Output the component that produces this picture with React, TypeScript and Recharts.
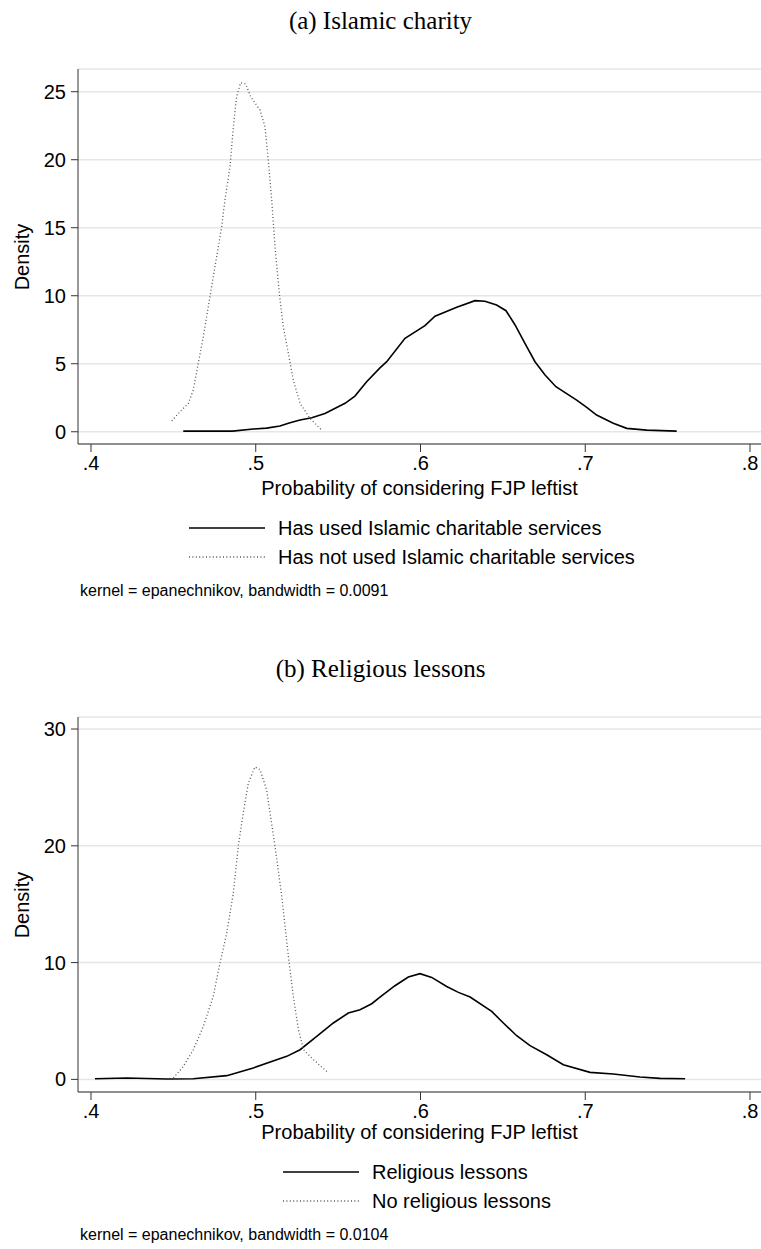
import React from 'react';
import { LineChart, Line, XAxis, YAxis, CartesianGrid } from 'recharts';

// Kernel density estimates, (x = probability, y = density)
const charityUsed: [number, number][] = [
  [0.456, 0.05], [0.486, 0.05], [0.4985, 0.2], [0.5066, 0.27], [0.5147, 0.42], [0.5208, 0.66],
  [0.5269, 0.86], [0.534, 1.03], [0.542, 1.35], [0.5542, 2.09], [0.5602, 2.62], [0.5673, 3.68],
  [0.5754, 4.7], [0.5795, 5.15], [0.5906, 6.87], [0.6027, 7.8], [0.6088, 8.5], [0.622, 9.15],
  [0.6331, 9.64], [0.6391, 9.59], [0.6462, 9.32], [0.6519, 8.9], [0.6574, 7.85], [0.6634, 6.5],
  [0.6695, 5.15], [0.6756, 4.17], [0.6822, 3.31], [0.6948, 2.33], [0.7009, 1.79], [0.7069, 1.23],
  [0.717, 0.62], [0.7252, 0.25], [0.7373, 0.12], [0.7555, 0.05],
];

const charityNotUsed: [number, number][] = [
  [0.449, 0.79], [0.454, 1.47], [0.4591, 2.09], [0.4621, 3.07], [0.4651, 5.03], [0.4682, 6.99],
  [0.4712, 9.19], [0.4742, 11.4], [0.4773, 13.6], [0.4793, 15.07], [0.4813, 17.04], [0.4844, 19.49],
  [0.4864, 22.43], [0.4884, 24.63], [0.4908, 25.66], [0.4939, 25.57], [0.4969, 24.63], [0.5026, 23.65],
  [0.5056, 22.43], [0.5076, 19.98], [0.5097, 17.04], [0.5117, 13.6], [0.5143, 10.18], [0.5167, 7.72],
  [0.5198, 5.76], [0.5228, 3.8], [0.5269, 2.09], [0.5329, 0.99], [0.54, 0.12],
];

const lessonsYes: [number, number][] = [
  [0.4024, 0.06], [0.4217, 0.12], [0.446, 0.03], [0.4621, 0.06], [0.4824, 0.32], [0.4985, 0.98],
  [0.5188, 1.97], [0.5269, 2.54], [0.537, 3.68], [0.5471, 4.83], [0.5562, 5.68], [0.5633, 5.97],
  [0.5704, 6.48], [0.5754, 7.05], [0.5845, 8.02], [0.5926, 8.77], [0.5997, 9.05], [0.6068, 8.73],
  [0.6159, 7.96], [0.623, 7.45], [0.6301, 7.05], [0.6432, 5.82], [0.6503, 4.83], [0.6584, 3.74],
  [0.6665, 2.89], [0.6766, 2.11], [0.6867, 1.26], [0.7029, 0.6], [0.717, 0.46], [0.7332, 0.2],
  [0.7454, 0.09], [0.7606, 0.06],
];

const lessonsNo: [number, number][] = [
  [0.45, 0.12], [0.456, 1.11], [0.4621, 2.54], [0.4682, 4.54], [0.4742, 7.11], [0.4783, 9.97],
  [0.4824, 12.53], [0.4864, 15.96], [0.4894, 19.95], [0.4924, 22.81], [0.4955, 25.38], [0.4995, 26.75],
  [0.5026, 26.52], [0.5066, 24.8], [0.5117, 19.95], [0.5158, 15.67], [0.5198, 10.53], [0.5228, 7.11],
  [0.5259, 4.26], [0.529, 2.54], [0.535, 1.69], [0.5441, 0.55],
];

const xTicks = [0.4, 0.5, 0.6, 0.7, 0.8];
const yTicksCharity = [0, 5, 10, 15, 20, 25];
const yTicksLessons = [0, 10, 20, 30];

const xTitle = 'Probability of considering FJP leftist';
const yTitle = 'Density';

const SANS = '"Liberation Sans", Arial, Helvetica, sans-serif';
const SERIF = '"Liberation Serif", "Times New Roman", serif';

const toRows = (pts: [number, number][]) => pts.map(([x, y]) => ({ x, y }));
const fmtX = (v: number) => String(v).replace(/^0/, '');

type PanelProps = {
  top: number;
  textShift: number;
  title: string;
  solid: [number, number][];
  dotted: [number, number][];
  solidLabel: string;
  dottedLabel: string;
  yTicks: number[];
  yDomain: [number, number];
  note: string;
  legendX: number;
};

const W = 761;
const PLOT_TOP = 69;
const PLOT_H = 375;
const AXIS_W = 78;

function Panel(p: PanelProps) {
  const chartH = PLOT_TOP + PLOT_H + 36;
  const s = p.textShift;
  return (
    <div style={{ position: 'absolute', left: 0, top: p.top, width: W, height: 620 }}>
      <div
        style={{
          position: 'absolute', left: 0, width: W, top: 6, textAlign: 'center',
          fontFamily: SERIF, fontSize: 25, lineHeight: '30px', color: '#000',
        }}
      >
        {p.title}
      </div>
      <LineChart
        width={W}
        height={chartH}
        margin={{ top: PLOT_TOP, right: 0, bottom: 0, left: 0 }}
        style={{ position: 'absolute', left: 0, top: 0 }}
      >
        <CartesianGrid vertical={false} stroke="#e6e6e6" strokeWidth={1.5} />
        <XAxis
          type="number"
          dataKey="x"
          domain={[0.39211, 0.80668]}
          ticks={xTicks}
          allowDataOverflow
          tickFormatter={fmtX}
          tickSize={8}
          tickMargin={4}
          height={36}
          stroke="#333"
          tick={{ fill: '#000', fontSize: 20, fontFamily: SANS }}
          interval={0}
        />
        <YAxis
          type="number"
          dataKey="y"
          domain={p.yDomain}
          ticks={p.yTicks}
          allowDataOverflow
          width={AXIS_W}
          tickSize={7}
          tickMargin={5}
          stroke="#333"
          tick={{ fill: '#000', fontSize: 20, fontFamily: SANS }}
          interval={0}
        />
        <Line
          data={toRows(p.solid)}
          dataKey="y"
          type="linear"
          stroke="#000"
          strokeWidth={1.6}
          dot={false}
          isAnimationActive={false}
        />
        <Line
          data={toRows(p.dotted)}
          dataKey="y"
          type="linear"
          stroke="#555"
          strokeWidth={1.3}
          strokeDasharray="1 2.4"
          dot={false}
          isAnimationActive={false}
        />
      </LineChart>
      <div
        style={{
          position: 'absolute', left: 22 - 60, top: PLOT_TOP + PLOT_H / 2 - 12, width: 120,
          textAlign: 'center', transform: 'rotate(-90deg)', fontFamily: SANS, fontSize: 20,
          lineHeight: '24px', color: '#000',
        }}
      >
        {yTitle}
      </div>
      <div
        style={{
          position: 'absolute', left: AXIS_W, width: W - AXIS_W, top: 476 + s, textAlign: 'center',
          fontFamily: SANS, fontSize: 20, lineHeight: '24px', color: '#000',
        }}
      >
        {xTitle}
      </div>
      <svg style={{ position: 'absolute', left: 0, top: 510 + s }} width={W} height={60}>
        <line x1={p.legendX} x2={p.legendX + 76} y1={18} y2={18} stroke="#000" strokeWidth={1.6} />
        <line
          x1={p.legendX} x2={p.legendX + 76} y1={47} y2={47}
          stroke="#555" strokeWidth={1.3} strokeDasharray="1 2.4"
        />
        <text x={p.legendX + 89} y={25} fontFamily={SANS} fontSize={20} fill="#000">{p.solidLabel}</text>
        <text x={p.legendX + 89} y={54} fontFamily={SANS} fontSize={20} fill="#000">{p.dottedLabel}</text>
      </svg>
      <div
        style={{
          position: 'absolute', left: 80, top: 581 + s, fontFamily: SANS, fontSize: 16,
          lineHeight: '20px', color: '#000', whiteSpace: 'nowrap',
        }}
      >
        {p.note}
      </div>
    </div>
  );
}

export default function App() {
  return (
    <div
      style={{
        position: 'absolute', left: 0, top: 0, width: W, height: 1249,
        background: '#fff', overflow: 'hidden',
      }}
    >
      <Panel
        top={0}
        textShift={0}
        title="(a) Islamic charity"
        solid={charityUsed}
        dotted={charityNotUsed}
        solidLabel="Has used Islamic charitable services"
        dottedLabel="Has not used Islamic charitable services"
        yTicks={yTicksCharity}
        yDomain={[-0.9, 26.67]}
        note="kernel = epanechnikov, bandwidth = 0.0091"
        legendX={189}
      />
      <Panel
        top={648}
        textShift={-4}
        title="(b) Religious lessons"
        solid={lessonsYes}
        dotted={lessonsNo}
        solidLabel="Religious lessons"
        dottedLabel="No religious lessons"
        yTicks={yTicksLessons}
        yDomain={[-1.08, 31.03]}
        note="kernel = epanechnikov, bandwidth = 0.0104"
        legendX={283}
      />
    </div>
  );
}
